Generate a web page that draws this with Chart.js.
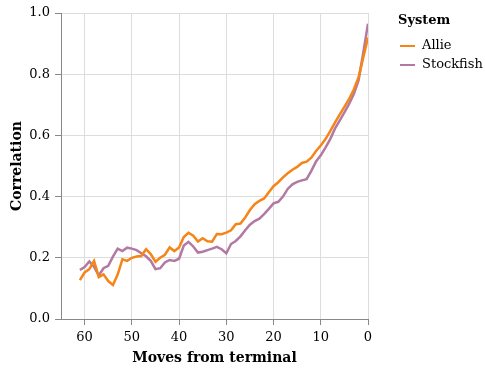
<!DOCTYPE html>
<html>
<head>
<meta charset="utf-8">
<script src="https://cdn.jsdelivr.net/npm/chart.js@4/dist/chart.umd.min.js"></script>
<style>
  html, body { margin: 0; padding: 0; background: #fff; }
  #wrap { width: 485px; height: 371px; }
</style>
</head>
<body>
<div id="wrap"><canvas id="chart" width="485" height="371"></canvas></div>
<script>
// DATA
const moves = [61, 60, 59, 58, 57, 56, 55, 54, 53, 52, 51, 50, 49, 48, 47, 46, 45, 44, 43, 42, 41,
  40, 39, 38, 37, 36, 35, 34, 33, 32, 31, 30, 29, 28, 27, 26, 25, 24, 23, 22, 21,
  20, 19, 18, 17, 16, 15, 14, 13, 12, 11, 10, 9, 8, 7, 6, 5, 4, 3, 2, 1, 0];
const allie = [0.127, 0.152, 0.163, 0.19, 0.137, 0.146, 0.124, 0.111, 0.145, 0.195, 0.19,
  0.2, 0.204, 0.206, 0.228, 0.212, 0.187, 0.2, 0.21, 0.234, 0.222,
  0.234, 0.268, 0.282, 0.272, 0.253, 0.264, 0.254, 0.253, 0.278, 0.277,
  0.282, 0.29, 0.31, 0.312, 0.332, 0.356, 0.375, 0.386, 0.394, 0.414,
  0.434, 0.447, 0.463, 0.476, 0.488, 0.497, 0.51, 0.514, 0.527, 0.549,
  0.567, 0.588, 0.614, 0.642, 0.668, 0.693, 0.719, 0.75, 0.79, 0.855, 0.92];
const stockfish = [0.16, 0.17, 0.188, 0.17, 0.142, 0.166, 0.174, 0.204, 0.23, 0.222, 0.233,
  0.23, 0.225, 0.215, 0.205, 0.19, 0.163, 0.166, 0.185, 0.193, 0.19,
  0.197, 0.24, 0.252, 0.237, 0.217, 0.22, 0.225, 0.23, 0.236, 0.228,
  0.215, 0.245, 0.255, 0.27, 0.29, 0.308, 0.32, 0.328, 0.343, 0.36,
  0.378, 0.383, 0.4, 0.425, 0.44, 0.448, 0.453, 0.457, 0.484, 0.515,
  0.535, 0.56, 0.588, 0.622, 0.648, 0.675, 0.703, 0.735, 0.78, 0.87, 0.965];
const xTicks = [60, 50, 40, 30, 20, 10, 0];
const yTicks = [0, 0.2, 0.4, 0.6, 0.8, 1.0];
const seriesNames = ['Allie', 'Stockfish'];
const seriesColors = ['#f58518', '#b279a2'];

const FONT = "'DejaVu Serif', serif";

// LEGEND (drawn by hand on the right)
const legendPlugin = {
  id: 'sideLegend',
  afterDraw(chart) {
    const ctx = chart.ctx;
    ctx.save();
    ctx.textBaseline = 'middle';
    ctx.fillStyle = '#000';
    ctx.font = 'bold 13px ' + FONT;
    ctx.fillText('System', 398, 21);
    ctx.font = '13px ' + FONT;
    chart.data.datasets.forEach((ds, i) => {
      const y = 46 + i * 19;
      ctx.strokeStyle = ds.borderColor;
      ctx.lineWidth = 2;
      ctx.beginPath();
      ctx.moveTo(400, y);
      ctx.lineTo(415, y);
      ctx.stroke();
      ctx.fillStyle = '#000';
      ctx.fillText(ds.label, 422, y);
    });
    ctx.restore();
  }
};

const series = [allie, stockfish];

new Chart(document.getElementById('chart'), {
  type: 'line',
  data: {
    datasets: series.map((vals, i) => ({
      label: seriesNames[i],
      data: moves.map((m, j) => ({ x: m, y: vals[j] })),
      borderColor: seriesColors[i],
      backgroundColor: seriesColors[i],
      borderWidth: 2.5,
      pointRadius: 0,
      tension: 0,
      fill: false
    }))
  },
  options: {
    responsive: false,
    animation: false,
    layout: { padding: { top: 13, right: 117, bottom: 0, left: 0 } },
    plugins: {
      legend: { display: false },
      tooltip: { enabled: false }
    },
    scales: {
      x: {
        type: 'linear',
        reverse: true,
        min: 0,
        max: 65,
        afterBuildTicks: s => { s.ticks = xTicks.map(v => ({ value: v })); },
        afterFit: s => { s.height = 52; },
        ticks: { color: '#000', font: { family: FONT, size: 13 }, padding: 5, maxRotation: 0 },
        grid: { color: '#ddd', tickColor: '#888', tickLength: 6 },
        border: { color: '#888' },
        title: {
          display: true, text: 'Moves from terminal', color: '#000',
          font: { family: FONT, size: 14, weight: 'bold' }, padding: { top: 0, bottom: 4 }
        }
      },
      y: {
        min: 0,
        max: 1,
        afterBuildTicks: s => { s.ticks = yTicks.map(v => ({ value: v })); },
        afterFit: s => { s.width = 61; },
        ticks: { color: '#000', font: { family: FONT, size: 13 }, padding: 5, callback: v => v.toFixed(1) },
        grid: { color: '#ddd', tickColor: '#888', tickLength: 6 },
        border: { color: '#888' },
        title: {
          display: true, text: 'Correlation', color: '#000',
          font: { family: FONT, size: 14, weight: 'bold' }, padding: { top: 9, bottom: 0 }
        }
      }
    }
  },
  plugins: [legendPlugin]
});
</script>
</body>
</html>
